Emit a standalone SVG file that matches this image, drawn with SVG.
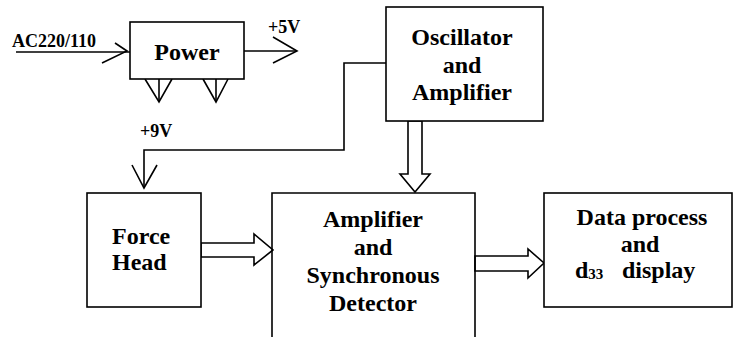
<svg xmlns="http://www.w3.org/2000/svg" width="735" height="337" viewBox="0 0 735 337">
<style>
.box{fill:#fff;stroke:#000;stroke-width:1.6}
.ln{fill:none;stroke:#000;stroke-width:1.6}
.blk{fill:#fff;stroke:#000;stroke-width:1.6;stroke-linejoin:miter}
.big{font-family:"Liberation Serif","Times New Roman",serif;font-weight:bold;font-size:24px;fill:#000}
.sm{font-family:"Liberation Serif","Times New Roman",serif;font-weight:bold;font-size:18px;fill:#000}
</style>
<rect width="735" height="337" fill="#fff"/>
<g id="connectors">
<line class="ln" x1="16" y1="52" x2="130" y2="52"/>
<polyline class="ln" points="115,43 127,51 102,63"/>
<line class="ln" x1="244" y1="51" x2="297" y2="51"/>
<polyline class="ln" points="273,37 297,51 273,63"/>
<polyline class="ln" points="145,79 159,102 172,79"/>
<line class="ln" x1="159" y1="79" x2="159" y2="102"/>
<polyline class="ln" points="203,79 216,102 228,79"/>
<line class="ln" x1="216" y1="79" x2="216" y2="102"/>
<polyline class="ln" points="386,63 344,63 344,150 144,150 144,188"/>
<polyline class="ln" points="132,165 144,188 157,165"/>
<polygon class="blk" points="408,121 408,174 400,174 415,192 430,174 422,174 422,121"/>
<polygon class="blk" points="201,243 254,243 254,234 273,250 254,265 254,257 201,257"/>
<polygon class="blk" points="475,256 528,256 528,249 544,263 528,278 528,271 475,271"/>
<text class="sm" x="12" y="47">AC220/110</text>
<text class="sm" x="268" y="33">+5V</text>
<text class="sm" x="140" y="137">+9V</text>
</g>
<g id="power">
<rect class="box" x="130" y="22" width="114" height="57"/>
<text class="big" x="187" y="60" text-anchor="middle">Power</text>
</g>
<g id="oscillator">
<rect class="box" x="386" y="7" width="157" height="114"/>
<text class="big" x="462" y="45" text-anchor="middle">Oscillator</text>
<text class="big" x="462" y="73" text-anchor="middle">and</text>
<text class="big" x="462" y="100" text-anchor="middle">Amplifier</text>
</g>
<g id="forcehead">
<rect class="box" x="87" y="193" width="114" height="114"/>
<text class="big" x="112" y="244">Force</text>
<text class="big" x="112" y="270">Head</text>
</g>
<g id="amplifier">
<path class="ln" d="M272,340 V193 H475 V340"/>
<text class="big" x="373" y="227" text-anchor="middle">Amplifier</text>
<text class="big" x="373" y="255" text-anchor="middle">and</text>
<text class="big" x="373" y="283" text-anchor="middle">Synchronous</text>
<text class="big" x="373" y="311" text-anchor="middle">Detector</text>
</g>
<g id="dataprocess">
<rect class="box" x="544" y="193" width="188" height="114"/>
<text class="big" x="642" y="225" text-anchor="middle">Data process</text>
<text class="big" x="640" y="252" text-anchor="middle">and</text>
<text class="big" x="575" y="278">d<tspan font-size="15" dy="1">33</tspan><tspan x="622" dy="-1">display</tspan></text>
</g>
</svg>
